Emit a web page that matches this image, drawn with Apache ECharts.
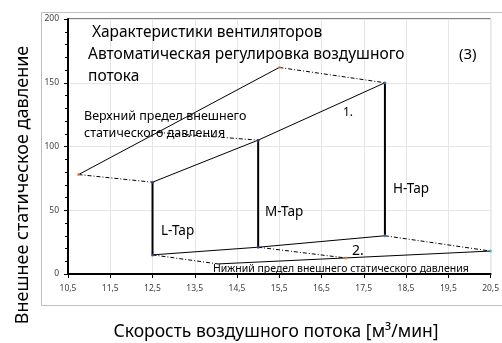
<!DOCTYPE html>
<html><head><meta charset="utf-8">
<script src="https://cdn.jsdelivr.net/npm/echarts@6/dist/echarts.min.js"></script>
<style>html,body{margin:0;padding:0;background:#fff}#c{width:502px;height:343px}</style>
</head><body><div id="c"></div>
<script>
// ---- data ----
const xTicks = [10.5, 11.5, 12.5, 13.5, 14.5, 15.5, 16.5, 17.5, 18.5, 19.5, 20.5];
const yTicks = [0, 50, 100, 150, 200];
const upperLimit = [[10.75, 78], [15.5, 162]];
const ratedTop = [[12.5, 72], [15, 105], [18, 150]];
const ratedBottom = [[12.5, 15], [15, 21], [18, 30]];
const lowerLimit = [[14.05, 7.9], [17.07, 12.6], [20.5, 18]];
const tapL = [[12.5, 15], [12.5, 72]];
const tapM = [[15, 21], [15, 105]];
const tapH = [[18, 30], [18, 150]];
const dashUpperL = [[10.75, 78], [12.5, 72]];
const dashUpperM = [[12.63, 111], [15, 105]];
const dashUpperH = [[15.5, 162], [18, 150]];
const dashLowerL = [[12.5, 15], [14.05, 7.9]];
const dashLowerM = [[15, 21], [17.07, 12.6]];
const dashLowerH = [[18, 30], [20.5, 18]];
const orangePts = [[10.75, 78], [15.5, 162], [17.07, 12.6]];
const navyPts = [[12.5, 72], [12.5, 15], [15, 21], [15, 105]];
const bluePts = [[18, 150], [18, 30]];
const cyanPts = [[20.5, 18]];

const FONT = '"Noto Sans", "Open Sans", sans-serif';
const chart = echarts.init(document.getElementById('c'), null, {renderer: 'canvas'});

function solid(data, w) {
  return {type: 'line', data, symbol: 'none', silent: true, animation: false,
    lineStyle: {color: '#000', width: w || 1}, z: 3};
}
function dashed(data) {
  return {type: 'line', data, symbol: 'none', silent: true, animation: false,
    lineStyle: {color: '#000', width: 1, type: [4, 2, 1, 2]}, z: 3};
}
function dots(data, color) {
  return {type: 'scatter', data, symbolSize: 3, itemStyle: {color}, silent: true, animation: false, z: 5};
}
function txt(x, y, text, size, extra) {
  return Object.assign({type: 'text', x, y, z: 10, silent: true,
    style: Object.assign({text, font: size + 'px ' + FONT, fill: '#000', verticalAlign: 'middle'}, extra || {})});
}

chart.setOption({
  animation: false,
  grid: {left: 68, right: 7, top: 19, bottom: 69, show: true, borderColor: '#000', borderWidth: 1},
  xAxis: {
    type: 'value', min: xTicks[0], max: xTicks[xTicks.length - 1],
    axisLine: {show: true, onZero: false, lineStyle: {color: '#000', width: 2}},
    axisTick: {show: true, length: 4, customValues: xTicks, lineStyle: {color: '#000', width: 1}},
    axisLabel: {customValues: xTicks, fontFamily: FONT, fontSize: 8.5, color: '#404040', margin: 10,
      formatter: v => String(v).replace('.', ',')},
    splitLine: {show: true, lineStyle: {color: '#e6e6e6', width: 1}}
  },
  yAxis: {
    type: 'value', min: yTicks[0], max: yTicks[yTicks.length - 1], interval: 50,
    axisLine: {show: true, lineStyle: {color: '#000', width: 2}},
    axisTick: {show: true, length: 4, lineStyle: {color: '#000'}},
    minorTick: {show: true, splitNumber: 5, length: 3, lineStyle: {color: '#000'}},
    axisLabel: {fontFamily: FONT, fontSize: 8.5, color: '#404040', margin: 9},
    splitLine: {show: true, lineStyle: {color: '#e6e6e6', width: 1}}
  },
  series: [
    solid(upperLimit), solid(ratedTop), solid(ratedBottom), solid(lowerLimit),
    solid(tapL, 2), solid(tapM, 2), solid(tapH, 2),
    dashed(dashUpperL), dashed(dashUpperM), dashed(dashUpperH),
    dashed(dashLowerL), dashed(dashLowerM), dashed(dashLowerH),
    dots(orangePts, '#ed7d31'), dots(navyPts, '#3d3d80'), dots(bluePts, '#4472c4'), dots(cyanPts, '#40b0e0')
  ],
  graphic: [
    {type: 'rect', shape: {x: 41.5, y: 12.5, width: 480, height: 293}, style: {fill: 'none', stroke: '#bfbfbf', lineWidth: 1}, z: -10, silent: true},
    txt(92, 33, 'Характеристики вентиляторов', 15.5),
    txt(88, 55, 'Автоматическая регулировка воздушного', 15.5),
    txt(88, 77, 'потока', 15.5),
    txt(459, 55, '(3)', 15),
    txt(84, 116, 'Верхний предел внешнего', 12.5),
    txt(84, 133, 'статического давления', 12.5),
    txt(343, 113, '1.', 12),
    txt(161, 231, 'L-Tap', 13.5),
    txt(265, 212, 'M-Tap', 13.5),
    txt(393, 189, 'H-Tap', 13.5),
    txt(352, 251, '2.', 14),
    txt(213, 269, 'Нижний предел внешнего статического давления', 10.5),
    txt(276, 332, 'Скорость воздушного потока [м³/мин]', 17.5, {align: 'center'}),
    Object.assign(txt(23, 185, 'Внешнее статическое давление', 18, {align: 'center'}), {rotation: Math.PI / 2})
  ]
});
</script>
</body></html>
